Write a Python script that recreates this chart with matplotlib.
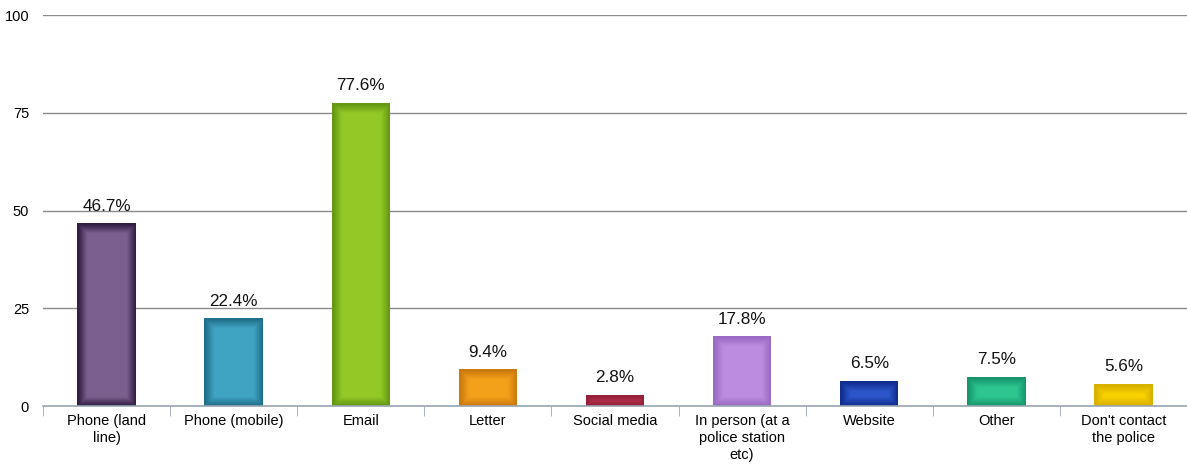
import matplotlib.pyplot as plt
import matplotlib.colors as mcolors
from matplotlib.patches import Rectangle
import numpy as np

plt.rcParams['font.family'] = ['Liberation Sans', 'DejaVu Sans']

categories = ["Phone (land\nline)", "Phone (mobile)", "Email", "Letter", "Social media",
              "In person (at a\npolice station\netc)", "Website", "Other", "Don't contact\nthe police"]
values = [46.7, 22.4, 77.6, 9.4, 2.8, 17.8, 6.5, 7.5, 5.6]
face = ["#7b5f8f", "#3fa3c2", "#93c927", "#f3a11a", "#c73b56", "#bb8ce0", "#2b55c8", "#2dc690", "#f8d200"]
edge = ["#2b173c", "#1d6a86", "#5f9412", "#c7760c", "#8e1d36", "#9767c0", "#0d2a8a", "#15916a", "#d4ac00"]

fig = plt.figure(figsize=(11.87, 4.66), dpi=100)
ax = fig.add_axes([43 / 1187, 60 / 466, 1 - 43 / 1187, (406 - 15) / 466])

x = np.arange(len(values))
w = 0.46


def mix(c1, c2, t):
    a = np.array(mcolors.to_rgb(c1))
    b = np.array(mcolors.to_rgb(c2))
    return tuple(a * (1 - t) + b * t)


bars = ax.bar(x, values, width=w, color=face, linewidth=0, zorder=3)
# inner shadow: rims clipped to the bar so they only show inside
steps = np.linspace(0, 1, 9)
for rect, f, e in zip(bars, face, edge):
    for s in steps:
        lw = 14 - 11.5 * s
        t = 0.95 - 0.85 * s
        rim = Rectangle(rect.get_xy(), rect.get_width(), rect.get_height(), fill=False,
                        edgecolor=mix(e, f, t), linewidth=lw, zorder=3.1)
        ax.add_patch(rim)
        rim.set_clip_path(rect)

for i, v in enumerate(values):
    ax.annotate(f"{v}%", (x[i], v), xytext=(0, 7), textcoords="offset points",
                ha="center", va="bottom", fontsize=12.3, color="#111111")

ax.set_xlim(-0.5, len(values) - 0.5)
ax.set_ylim(0, 100)
ax.set_yticks([0, 25, 50, 75, 100])
ax.yaxis.grid(True, color="#8a8a8a", linewidth=1)
ax.set_axisbelow(True)

ax.set_xticks(x)
ax.set_xticklabels(categories, fontsize=10.5, linespacing=1.25)
ax.set_xticks(np.arange(len(values) + 1) - 0.5, minor=True)
ax.tick_params(axis="x", which="major", length=0, pad=6)
ax.tick_params(axis="x", which="minor", length=7, color="#9aa6b2", direction="out")
ax.tick_params(axis="y", length=0, labelsize=10.5, pad=10)

for s in ["top", "right", "left"]:
    ax.spines[s].set_visible(False)
ax.spines["bottom"].set_color("#9aa6b2")
ax.spines["bottom"].set_linewidth(1.2)
ax.spines["bottom"].set_zorder(4)

fig.savefig("out.png", dpi=100)
